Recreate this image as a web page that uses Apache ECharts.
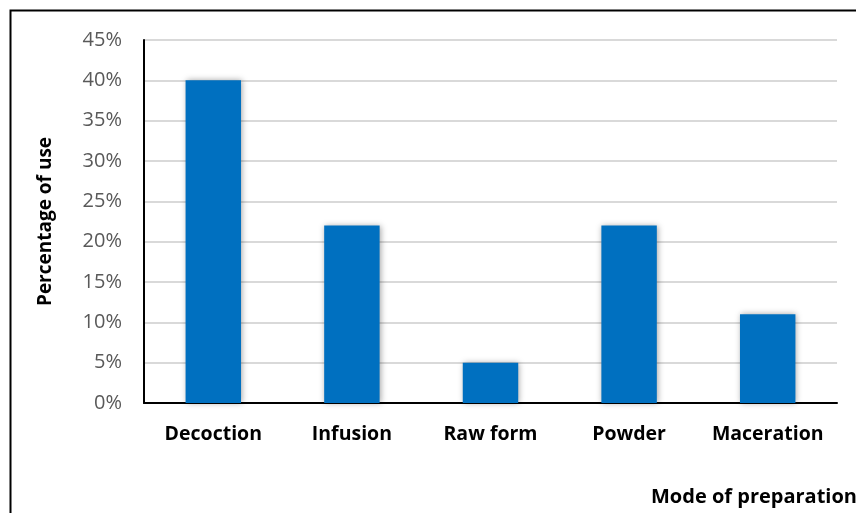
<!DOCTYPE html>
<html>
<head>
<meta charset="utf-8">
<script src="https://cdn.jsdelivr.net/npm/echarts@6/dist/echarts.min.js"></script>
<style>
  html, body { margin: 0; padding: 0; background: #fff; }
  #chart { width: 856px; height: 513px; }
</style>
</head>
<body>
<div id="chart"></div>
<script>
// Modes of preparation and their share of use (%)
const categories = ['Decoction', 'Infusion', 'Raw form', 'Powder', 'Maceration'];
const usePercent = [40, 22, 5, 22, 11];
const yTicks = [0, 5, 10, 15, 20, 25, 30, 35, 40, 45];

const chart = echarts.init(document.getElementById('chart'), null, { renderer: 'canvas' });

chart.setOption({
  animation: false,
  backgroundColor: '#ffffff',
  graphic: [{
    type: 'rect',
    shape: { x: 10.5, y: 10.5, width: 900, height: 600 },
    style: { fill: 'none', stroke: '#000', lineWidth: 2 },
    silent: true,
    z: -1
  }],
  grid: { left: 144, right: 19, top: 40, bottom: 110, containLabel: false, outerBoundsMode: 'none' },
  xAxis: {
    type: 'category',
    data: categories,
    name: 'Mode of preparation',
    nameLocation: 'end',
    nameGap: 0,
    nameTextStyle: {
      fontFamily: 'Open Sans', fontWeight: 'bold', fontSize: 20, color: '#000',
      align: 'left', verticalAlign: 'top', padding: [84, 0, 0, -186]
    },
    axisLine: { lineStyle: { color: '#000', width: 2 } },
    axisTick: { show: false },
    axisLabel: {
      interval: 0, hideOverlap: false,
      margin: 21, fontFamily: 'Open Sans', fontWeight: 'bold', fontSize: 19.5, color: '#000'
    }
  },
  yAxis: {
    type: 'value',
    min: 0, max: 45, interval: 5,
    name: 'Percentage of use',
    nameLocation: 'middle',
    nameGap: 89,
    nameRotate: 90,
    nameTextStyle: { fontFamily: 'Open Sans', fontWeight: 'bold', fontSize: 19, color: '#000' },
    axisLine: { show: true, lineStyle: { color: '#000', width: 2 } },
    axisTick: { show: false },
    axisLabel: {
      margin: 22, fontFamily: 'Open Sans', fontSize: 20, color: '#595959',
      formatter: v => yTicks.includes(v) ? v + '%' : ''
    },
    splitLine: { lineStyle: { color: '#d9d9d9', width: 2 } }
  },
  series: [{
    type: 'bar',
    data: usePercent,
    barWidth: '40%',
    itemStyle: {
      color: '#0070C0',
      shadowColor: 'rgba(0,0,0,0.35)',
      shadowBlur: 6,
      shadowOffsetX: 1
    }
  }]
});
</script>
</body>
</html>
